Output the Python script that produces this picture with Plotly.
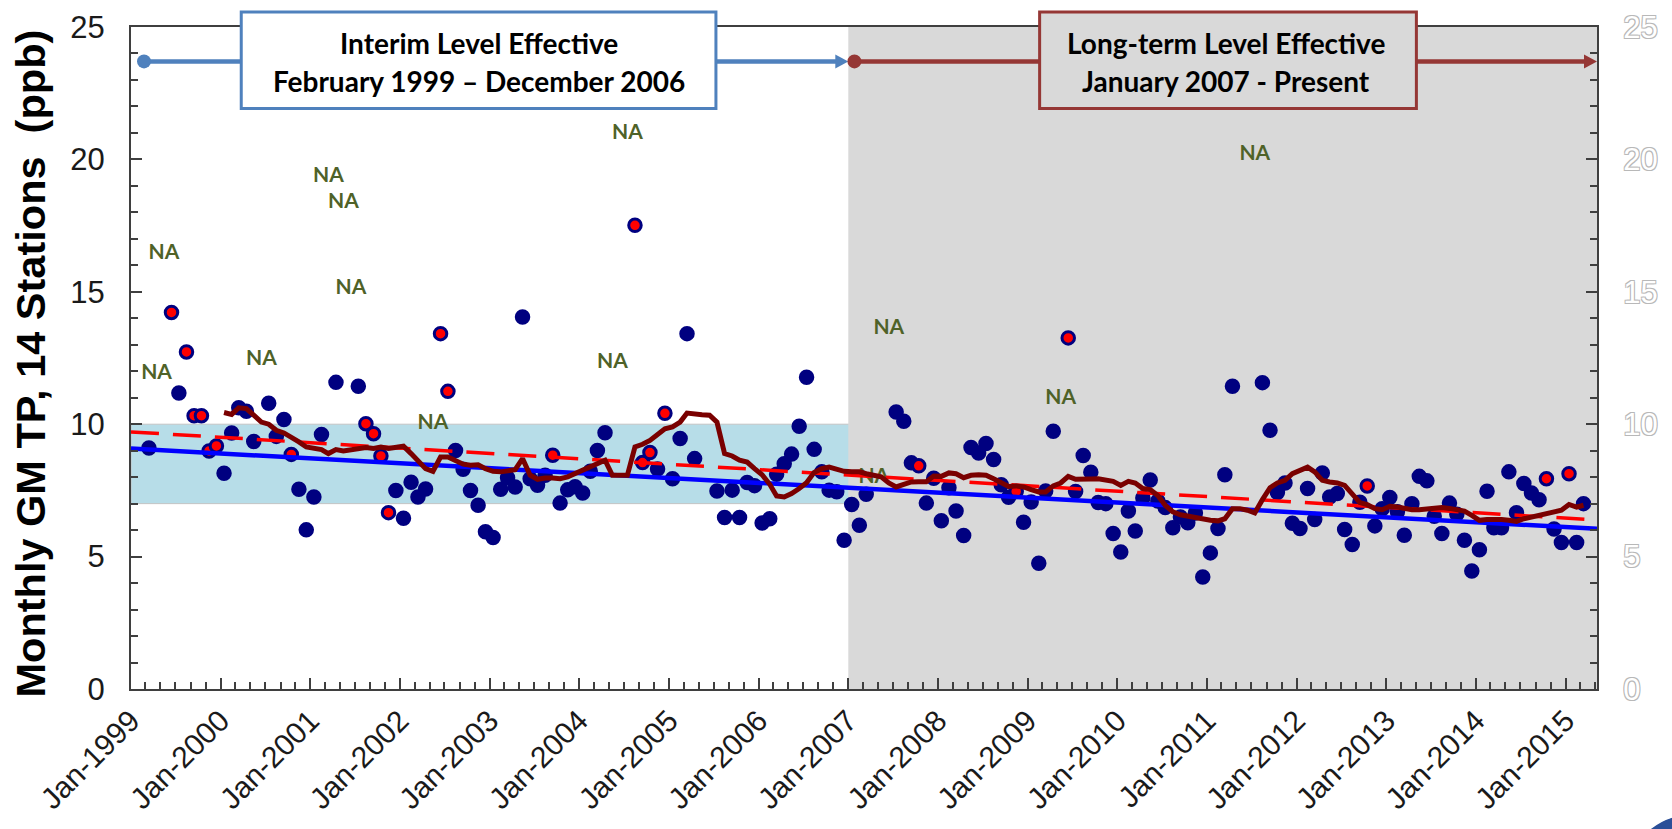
import pandas as pd
import plotly.graph_objects as go

# Monthly geometric-mean TP (ppb), 14 stations; months without a value are omitted
tp_month = [
    "1999-03", "1999-06", "1999-07", "1999-08", "1999-09", "1999-10", "1999-11", "1999-12",
    "2000-01", "2000-02", "2000-03", "2000-04", "2000-05", "2000-07", "2000-08", "2000-09",
    "2000-10", "2000-11", "2000-12",
    "2001-01", "2001-02", "2001-04", "2001-07", "2001-08", "2001-09", "2001-10", "2001-11",
    "2001-12",
    "2002-01", "2002-02", "2002-03", "2002-04", "2002-06", "2002-07", "2002-08", "2002-09",
    "2002-10", "2002-11", "2002-12",
    "2003-01", "2003-02", "2003-03", "2003-04", "2003-05", "2003-06", "2003-07", "2003-08",
    "2003-09", "2003-10", "2003-11", "2003-12",
    "2004-01", "2004-02", "2004-03", "2004-04", "2004-08", "2004-09", "2004-10", "2004-11",
    "2004-12",
    "2005-01", "2005-02", "2005-03", "2005-04", "2005-07", "2005-08", "2005-09", "2005-10",
    "2005-11", "2005-12",
    "2006-01", "2006-02", "2006-03", "2006-04", "2006-05", "2006-06", "2006-07", "2006-08",
    "2006-09", "2006-10", "2006-11", "2006-12",
    "2007-01", "2007-02", "2007-03", "2007-07", "2007-08", "2007-09", "2007-10", "2007-11",
    "2007-12",
    "2008-01", "2008-02", "2008-03", "2008-04", "2008-05", "2008-06", "2008-07", "2008-08",
    "2008-09", "2008-10", "2008-11", "2008-12",
    "2009-01", "2009-02", "2009-03", "2009-04", "2009-06", "2009-07", "2009-08", "2009-09",
    "2009-10", "2009-11", "2009-12",
    "2010-01", "2010-02", "2010-03", "2010-04", "2010-05", "2010-06", "2010-07", "2010-08",
    "2010-09", "2010-10", "2010-11", "2010-12",
    "2011-01", "2011-02", "2011-03", "2011-04", "2011-08", "2011-09", "2011-10", "2011-11",
    "2011-12",
    "2012-01", "2012-02", "2012-03", "2012-04", "2012-05", "2012-06", "2012-07", "2012-08",
    "2012-09", "2012-10", "2012-11", "2012-12",
    "2013-01", "2013-02", "2013-03", "2013-04", "2013-05", "2013-06", "2013-07", "2013-08",
    "2013-09", "2013-10", "2013-11", "2013-12",
    "2014-01", "2014-02", "2014-03", "2014-04", "2014-05", "2014-06", "2014-07", "2014-08",
    "2014-09", "2014-10", "2014-11", "2014-12",
    "2015-01", "2015-02", "2015-03",
]
tp_value = [
    9.10, 14.22, 11.18, 12.73, 10.32, 10.32, 8.99, 9.18,
    8.15, 9.67, 10.62, 10.49, 9.35, 10.79, 9.54, 10.18,
    8.86, 7.54, 6.01,
    7.25, 9.61, 11.58, 11.43, 10.02, 9.64, 8.80, 6.66,
    7.50,
    6.45, 7.81, 7.25, 7.55, 13.42, 11.24, 9.01, 8.30,
    7.50, 6.94, 5.94,
    5.72, 7.54, 7.98, 7.63, 14.05, 7.94, 7.69, 8.07,
    8.83, 7.02, 7.52, 7.64,
    7.40, 8.22, 9.01, 9.68, 17.51, 8.55, 8.93, 8.31,
    10.41,
    7.94, 9.46, 13.42, 8.70, 7.48, 6.48, 7.51, 6.48,
    7.80, 7.68,
    6.27, 6.43, 8.11, 8.51, 8.87, 9.92, 11.77, 9.05,
    8.20, 7.51, 7.45, 5.62,
    6.97, 6.18, 7.35, 10.46, 10.11, 8.54, 8.43, 7.02,
    7.96,
    6.35, 7.60, 6.72, 5.80, 9.12, 8.91, 9.27, 8.67,
    7.71, 7.24, 7.46, 6.30,
    7.06, 4.75, 7.48, 9.73, 13.26, 7.46, 8.82, 8.19,
    7.04, 7.00, 5.87,
    5.17, 6.72, 5.97, 7.21, 7.89, 7.10, 6.85, 6.09,
    6.50, 6.28, 6.65, 4.23,
    5.14, 6.06, 8.09, 11.43, 11.57, 9.77, 7.42, 7.78,
    6.26,
    6.06, 7.57, 6.40, 8.16, 7.25, 7.38, 6.02, 5.46,
    7.05, 7.67, 6.16, 6.81,
    7.23, 6.69, 5.81, 7.00, 8.03, 7.86, 6.52, 5.87,
    7.02, 6.60, 5.62, 4.46,
    5.26, 7.47, 6.09, 6.09, 8.20, 6.66, 7.76, 7.40,
    7.15, 7.94, 6.04, 5.53,
    8.13, 5.53, 7.00,
]
# 1 = month drawn with a red centre
tp_flag = [
    0, 1, 0, 1, 1, 1, 1, 1,
    0, 0, 0, 0, 0, 0, 0, 0,
    1, 0, 0,
    0, 0, 0, 0, 1, 1, 1, 1,
    0,
    0, 0, 0, 0, 1, 1, 0, 0,
    0, 0, 0,
    0, 0, 0, 0, 0, 0, 0, 0,
    1, 0, 0, 0,
    0, 0, 0, 0, 1, 1, 1, 0,
    1,
    0, 0, 0, 0, 0, 0, 0, 0,
    0, 0,
    0, 0, 0, 0, 0, 0, 0, 0,
    0, 0, 0, 0,
    0, 0, 0, 0, 0, 0, 1, 0,
    0,
    0, 0, 0, 0, 0, 0, 0, 0,
    0, 0, 1, 0,
    0, 0, 0, 0, 1, 0, 0, 0,
    0, 0, 0,
    0, 0, 0, 0, 0, 0, 0, 0,
    0, 0, 0, 0,
    0, 0, 0, 0, 0, 0, 0, 0,
    0,
    0, 0, 0, 0, 0, 0, 0, 0,
    0, 1, 0, 0,
    0, 0, 0, 0, 0, 0, 0, 0,
    0, 0, 0, 0,
    0, 0, 0, 0, 0, 0, 0, 0,
    0, 1, 0, 0,
    1, 0, 0,
]

# Months with no data, and the height at which each "NA" tag sits
na_month = ["1999-04", "1999-05", "2000-06", "2001-03", "2001-05", "2001-06", "2002-05",
            "2004-05", "2004-07", "2007-04", "2007-06", "2009-05", "2011-07"]
na_y = [11.91, 16.43, 12.44, 19.35, 18.35, 15.10, 10.02,
        12.31, 20.97, 7.97, 13.59, 10.97, 20.17]

# 12-month running average, January 2000 onward
ma_start = "2000-01"
ma_value = [
    10.44, 10.37, 10.62, 10.59, 10.34, 10.08, 10.00, 9.77, 9.67, 9.52, 9.33, 9.14,
    9.08, 9.04, 8.89, 9.04, 8.99, 9.04, 9.08, 9.12, 9.08, 9.14, 9.08, 9.14,
    9.17, 8.89, 8.60, 8.32, 8.22, 8.76, 8.76, 8.64, 8.49, 8.45, 8.47, 8.32,
    8.22, 8.20, 8.26, 8.28, 8.70, 8.07, 7.92, 7.97, 7.97, 7.94, 8.01, 8.13,
    8.26, 8.38, 8.51, 8.64, 8.07, 8.05, 8.07, 9.14, 9.24, 9.39, 9.62, 9.83,
    9.90, 10.08, 10.42, 10.37, 10.36, 10.34, 10.08, 8.89, 8.80, 8.64, 8.57, 8.32,
    8.09, 7.73, 7.29, 7.25, 7.38, 7.57, 7.79, 8.18, 8.32, 8.38, 8.30, 8.22,
    8.20, 8.20, 8.13, 8.09, 8.01, 7.78, 7.63, 7.73, 7.82, 7.83, 7.83, 8.04,
    8.03, 8.16, 8.13, 7.98, 8.07, 8.09, 8.07, 7.94, 7.78, 7.65, 7.67, 7.63,
    7.53, 7.44, 7.44, 7.67, 7.78, 8.03, 7.92, 7.91, 7.93, 7.94, 7.91, 7.84,
    7.69, 7.84, 7.78, 7.57, 7.53, 7.31, 6.94, 6.69, 6.58, 6.52, 6.47, 6.40,
    6.37, 6.35, 6.43, 6.81, 6.81, 6.75, 6.65, 7.15, 7.60, 7.78, 7.88, 8.13,
    8.23, 8.38, 8.20, 7.88, 7.82, 7.78, 7.69, 7.35, 7.04, 6.96, 6.81, 6.77,
    6.90, 6.87, 6.82, 6.77, 6.77, 6.81, 6.84, 6.85, 6.82, 6.79, 6.72, 6.56,
    6.37, 6.40, 6.42, 6.40, 6.37, 6.33, 6.43, 6.50, 6.55, 6.62, 6.67, 6.75,
    6.97, 6.87, 6.94,
]

# Straight-line trends across the whole record (end points)
trend_x = ["1999-01-01", "2015-05-09"]
trend_solid = [9.08, 6.05]
trend_dashed = [9.71, 6.38]

# Target band (ppb) and period boundaries
band_low, band_high = 7, 10
x_start, x_end = "1999-01-01", "2015-05-09"
longterm_start = "2007-01-01"
arrow_y = 23.7

NAVY = "#000080"
BLUE_BOX = "#4F81BD"
RED_BOX = "#953735"
AXIS = "#3f3f3f"
TICK_FONT = "Liberation Sans, Arial, sans-serif"
BOX_FONT = "Lato, Calibri, sans-serif"


def mid_month(months):
    return pd.to_datetime([m + "-15" for m in months])


tp_dates = mid_month(tp_month)
na_dates = mid_month(na_month)
ma_dates = pd.date_range(ma_start + "-01", periods=len(ma_value), freq="MS") + pd.Timedelta(days=14)

fig = go.Figure()

# NA tags (drawn beneath the lines)
fig.add_trace(go.Scatter(
    x=na_dates, y=na_y, mode="text", text=["<b>NA</b>"] * len(na_y),
    textfont=dict(family=BOX_FONT, size=21, color="#4F6228"),
    hoverinfo="skip", showlegend=False,
))

# Monthly points
fill = ["#FF0000" if f else NAVY for f in tp_flag]
fig.add_trace(go.Scatter(
    x=tp_dates, y=tp_value, mode="markers",
    marker=dict(size=12.5, color=fill, line=dict(color=NAVY, width=3)),
    showlegend=False,
))

# Trend lines
fig.add_trace(go.Scatter(
    x=pd.to_datetime(trend_x), y=trend_solid, mode="lines",
    line=dict(color="#0000FF", width=4.5), showlegend=False,
))
fig.add_trace(go.Scatter(
    x=pd.to_datetime(trend_x), y=trend_dashed, mode="lines",
    line=dict(color="#FF0000", width=3.5, dash="28px,14px"), showlegend=False,
))

# Running average
fig.add_trace(go.Scatter(
    x=ma_dates, y=ma_value, mode="lines",
    line=dict(color="#7A0000", width=5), showlegend=False,
))

# Invisible trace to carry the right-hand axis
fig.add_trace(go.Scatter(
    x=pd.to_datetime([x_start]), y=[0], yaxis="y2", mode="markers",
    marker=dict(opacity=0), hoverinfo="skip", showlegend=False,
))

shapes = [
    # long-term period shading
    dict(type="rect", xref="x", yref="y", x0=longterm_start, x1=x_end, y0=0, y1=25,
         fillcolor="#D9D9D9", line=dict(width=0), layer="below"),
    # target band
    dict(type="rect", xref="paper", yref="y", x0=0, x1=1, y0=band_low, y1=band_high,
         fillcolor="#B7DDE8", line=dict(color="#C4C4C4", width=1), layer="below"),
]


def period_arrow(x_from, x_line_end, x_tip, color):
    return [
        dict(type="line", xref="x", yref="y", x0=x_from, x1=x_line_end,
             y0=arrow_y, y1=arrow_y, line=dict(color=color, width=4.5)),
        dict(type="circle", xref="x", yref="y", xsizemode="pixel", ysizemode="pixel",
             xanchor=x_from, yanchor=arrow_y, x0=-7, x1=7, y0=-7, y1=7,
             fillcolor=color, line=dict(width=0)),
        dict(type="path", xref="x", yref="y", xsizemode="pixel", ysizemode="pixel",
             xanchor=x_tip, yanchor=arrow_y, path="M -13,-7 L 0,0 L -13,7 Z",
             fillcolor=color, line=dict(width=0)),
    ]


shapes += period_arrow("1999-02-23", "2006-11-25", "2007-01-01", BLUE_BOX)
shapes += period_arrow("2007-01-26", "2015-04-05", x_end, RED_BOX)

# Period label boxes (paper coordinates, extending above the plot frame)
shapes += [
    dict(type="rect", xref="paper", yref="paper", x0=0.0752, x1=0.3990, y0=0.8767, y1=1.0227,
         fillcolor="white", line=dict(color=BLUE_BOX, width=3), layer="above"),
    dict(type="rect", xref="paper", yref="paper", x0=0.6198, x1=0.8768, y0=0.8767, y1=1.0227,
         fillcolor="#D9D9D9", line=dict(color=RED_BOX, width=3), layer="above"),
]

# Partial seal in the lower-right corner
shapes += [
    dict(type="circle", xref="paper", yref="paper", x0=1.0180, x1=1.1135, y0=-0.4000, y1=-0.1885,
         fillcolor="#2B4F98", line=dict(color="white", width=1.5), layer="above"),
    dict(type="circle", xref="paper", yref="paper", x0=1.0262, x1=1.1053, y0=-0.3819, y1=-0.2066,
         fillcolor="rgba(0,0,0,0)", line=dict(color="white", width=1.5), layer="above"),
]

box_font = dict(family=BOX_FONT, size=28, color="black")
annotations = [
    dict(text="<b>Interim Level Effective</b>", x=0.2375, y=0.9753, xref="paper", yref="paper",
         showarrow=False, font=box_font, xanchor="center", yanchor="middle"),
    dict(text="<b>February 1999 \u2013 December 2006</b>", x=0.2375, y=0.9180, xref="paper",
         yref="paper", showarrow=False, font=box_font, xanchor="center", yanchor="middle"),
    dict(text="<b>Long-term Level Effective</b>", x=0.7469, y=0.9753, xref="paper", yref="paper",
         showarrow=False, font=box_font, xanchor="center", yanchor="middle"),
    dict(text="<b>January 2007 - Present</b>", x=0.7469, y=0.9180, xref="paper", yref="paper",
         showarrow=False, font=box_font, xanchor="center", yanchor="middle"),
    dict(text="<b>Monthly GM TP, 14 Stations  (ppb)</b>", textangle=-90, x=-0.0685, y=0.491,
         xref="paper", yref="paper", showarrow=False, xanchor="center", yanchor="middle",
         font=dict(family=TICK_FONT, size=41.5, color="black")),
]

ghost_shadow = ("1px 1px 0 #b8b8b8, -1px -1px 0 #b8b8b8, "
                "1px -1px 0 #b8b8b8, -1px 1px 0 #b8b8b8")

fig.update_layout(
    width=1672, height=829,
    margin=dict(l=131, r=75, t=27, b=140, autoexpand=False),
    paper_bgcolor="white", plot_bgcolor="white",
    shapes=shapes, annotations=annotations,
    xaxis=dict(
        type="date", range=[x_start, x_end],
        tick0="1999-01-01", dtick="M12", tickformat="%b-%Y", tickangle=-45,
        ticks="inside", ticklen=11, tickwidth=1.5, tickcolor=AXIS,
        minor=dict(dtick="M2", tick0="1999-01-01", ticks="inside", ticklen=7,
                   tickwidth=1.5, tickcolor=AXIS, showgrid=False),
        showline=True, linecolor=AXIS, linewidth=2, mirror=True,
        showgrid=False, zeroline=False,
        tickfont=dict(family=TICK_FONT, size=30, color="#1a1a1a"),
    ),
    yaxis=dict(
        range=[0, 25], tick0=0, dtick=5,
        ticks="inside", ticklen=11, tickwidth=1.5, tickcolor=AXIS,
        minor=dict(dtick=1, ticks="inside", ticklen=7, tickwidth=1.5, tickcolor=AXIS,
                   showgrid=False),
        showline=True, linecolor=AXIS, linewidth=2,
        showgrid=False, zeroline=False, ticklabelstandoff=18,
        tickfont=dict(family=TICK_FONT, size=31, color="#1a1a1a"),
    ),
    yaxis2=dict(
        overlaying="y", side="right", range=[0, 25], tick0=0, dtick=5,
        ticks="inside", ticklen=11, tickwidth=1.5, tickcolor=AXIS,
        minor=dict(dtick=1, ticks="inside", ticklen=7, tickwidth=1.5, tickcolor=AXIS,
                   showgrid=False),
        showline=True, linecolor=AXIS, linewidth=2,
        showgrid=False, zeroline=False, ticklabelstandoff=18,
        tickfont=dict(family=TICK_FONT, size=31, color="white", shadow=ghost_shadow),
    ),
)

fig.write_html("out.html", post_script="document.body.style.margin='0';")
